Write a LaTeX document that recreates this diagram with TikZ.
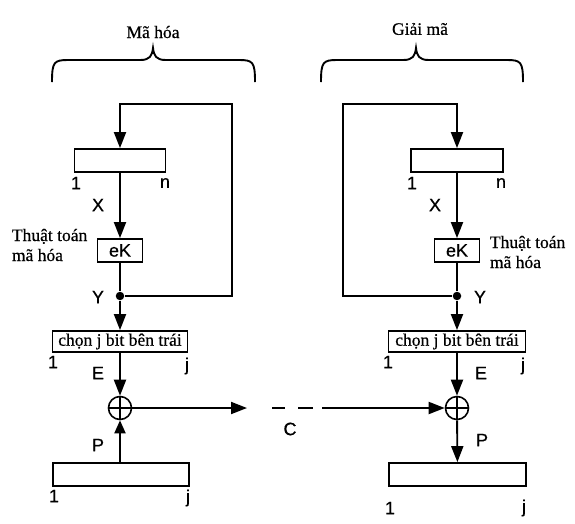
\documentclass[tikz,border=0pt]{standalone}
\usepackage{fontspec}
\setmainfont{Liberation Serif}[FakeBold=0.6]
\setsansfont{Liberation Sans}[FakeBold=0.6]
\usetikzlibrary{arrows.meta}

\tikzset{
  reg/.style={draw, line width=1.8pt, inner sep=0pt},
  lab/.style={font=\sffamily\fontsize{18}{20}\selectfont, inner sep=0pt},
  txt/.style={font=\fontsize{17.5}{20}\selectfont, inner sep=0pt},
  arr/.style={-{Triangle[length=16pt,width=12pt]}},
  arrs/.style={-{Triangle[length=13pt,width=11pt]}},
  dot/.style={circle, fill, inner sep=0pt, minimum size=8.5pt},
  xor/.style={circle, draw, line width=1.6pt, minimum size=23pt, inner sep=0pt,
    path picture={\draw[line width=1.4pt]
      (path picture bounding box.north) -- (path picture bounding box.south)
      (path picture bounding box.west) -- (path picture bounding box.east);}}
}

\begin{document}
\begin{tikzpicture}[x=1pt, y=-1pt, line width=1.9pt]
\useasboundingbox (0,0) rectangle (575,523);

% braces
\node[txt] (encT) at (153,32) {Mã hóa};
\node[txt] (decT) at (420,29) {Giải mã};
\draw (52,82) .. controls (52,62) and (54,60) .. (68,60) -- (140,60)
  .. controls (150,60) and (152,56) .. (153,48)
  .. controls (154,56) and (156,60) .. (166,60) -- (239,60)
  .. controls (253,60) and (255,62) .. (255,82);
\draw (321,82) .. controls (321,62) and (323,60) .. (337,60) -- (403,60)
  .. controls (413,60) and (415,56) .. (416,48)
  .. controls (417,56) and (419,60) .. (429,60) -- (507,60)
  .. controls (521,60) and (523,62) .. (523,82);

% left side: encryption
\node[reg, minimum width=91pt, minimum height=23pt] (regL) at (120,160.5) {};
\node[reg, minimum width=45pt, minimum height=23pt, lab] (ekL) at (120,250.5) {eK};
\node[dot] (yL) at (120,296) {};
\node[reg, minimum width=135pt, minimum height=21pt, txt] (chonL) at (120,341.5) {chọn j bit bên trái};
\node[xor] (xorL) at (120,408) {};
\node[reg, minimum width=136pt, minimum height=23pt] (plainL) at (121,474.5) {};
\coordinate (fbL) at (232,104);

\node[txt, anchor=west, align=left] (algL) at (11,245) {Thuật toán\\mã hóa};
\node[lab] (xL) at (98,205) {X};
\node[lab] (yLlab) at (98,297) {Y};
\node[lab] (eL) at (98,373) {E};
\node[lab] (pL) at (98,445) {P};

\draw[arr] (yL) -| (fbL) -| (regL.north);
\draw[arr] (regL) -- (ekL);
\draw (ekL) -- (yL);
\draw[arr] (yL) -- (chonL);
\draw[arr] (chonL) -- (xorL);
\draw[arrs] (plainL.north -| xorL) -- (xorL);

% right side: decryption
\node[reg, minimum width=92pt, minimum height=23pt] (regR) at (457,160.5) {};
\node[reg, minimum width=45pt, minimum height=23pt, lab] (ekR) at (457,250.5) {eK};
\node[dot] (yR) at (457,296) {};
\node[reg, minimum width=137pt, minimum height=21pt, txt] (chonR) at (457,341.5) {chọn j bit bên trái};
\node[xor] (xorR) at (457,408) {};
\node[reg, minimum width=137pt, minimum height=23pt] (plainR) at (457.5,474.5) {};
\coordinate (fbR) at (343,104);

\node[txt, anchor=west, align=left] (algR) at (489,252) {Thuật toán\\mã hóa};
\node[lab] (xR) at (435,205) {X};
\node[lab] (yRlab) at (480,297) {Y};
\node[lab] (eR) at (481,373) {E};
\node[lab] (pR) at (482,440) {P};

\draw[arr] (yR) -| (fbR) -| (regR.north);
\draw[arr] (regR) -- (ekR);
\draw (ekR) -- (yR);
\draw[arr] (yR) -- (chonR);
\draw[arr] (chonR) -- (xorR);
\draw[arr] (xorR) -- (plainR);

% bit positions
\foreach \nm/\x/\y/\t in {oA/76/183/1, nA/165/183/n, oB/53/362/1, jB/187/366/j,
    oC/54/496/1, jC/188/498/j, oD/412/183/1, nD/501/183/n, oE/388/362/1,
    jE/523/366/j, oF/390/508/1, jF/524/508/j}
  \node[lab] (\nm) at (\x,\y) {\t};

% channel
\coordinate (cA) at (247,408);
\coordinate (cB) at (322,408);
\node[lab] (cT) at (290,429) {C};
\draw[arr] (xorL) -- (cA);
\draw[dash pattern=on 0pt off 25pt on 13pt off 13pt on 15pt off 9pt] (cA) -- (cB);
\draw[arr] (cB) -- (xorR);

\end{tikzpicture}
\end{document}
